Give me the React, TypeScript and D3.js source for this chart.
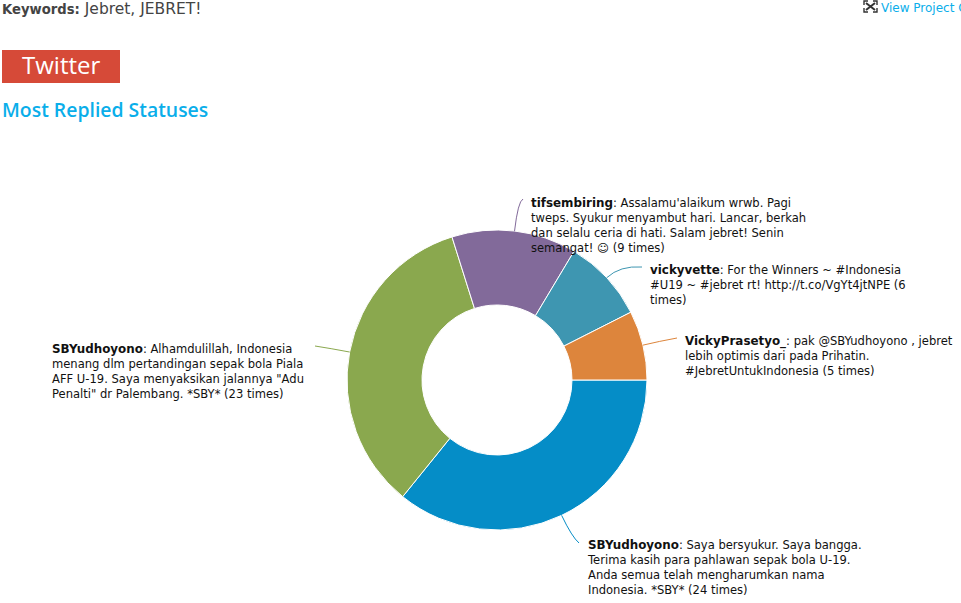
import React, { useEffect, useRef } from "react";
import * as d3 from "d3";

const users = ["SBYudhoyono", "SBYudhoyono", "tifsembiring", "vickyvette", "VickyPrasetyo_"];
const times = [24, 23, 9, 6, 5];
const colors = ["#058dc7", "#8aa84e", "#826a9a", "#3e96b1", "#dd853c"];
const statusLines = [
  [": Saya bersyukur. Saya bangga.", "Terima kasih para pahlawan sepak bola U-19.", "Anda semua telah mengharumkan nama", "Indonesia. *SBY* (24 times)"],
  [": Alhamdulillah, Indonesia", "menang dlm pertandingan sepak bola Piala", "AFF U-19. Saya menyaksikan jalannya \"Adu", "Penalti\" dr Palembang. *SBY* (23 times)"],
  [": Assalamu'alaikum wrwb. Pagi", "tweps. Syukur menyambut hari. Lancar, berkah", "dan selalu ceria di hati. Salam jebret! Senin", "semangat! \u263A (9 times)"],
  [": For the Winners ~ #Indonesia", "#U19 ~ #jebret rt! http://t.co/VgYt4jtNPE (6", "times)"],
  [": pak @SBYudhoyono , jebret", "lebih optimis dari pada Prihatin.", "#JebretUntukIndonesia (5 times)"],
];
// label block position (left x, first baseline), where the leader line stops, and how far it runs out radially before bending
const labelPos = [[588, 549], [52, 353], [531, 207], [650, 274], [685, 345]];
const leaderEnd = [[579, 543], [315, 346], [523, 199], [642, 267], [677, 338]];
const leaderReach = [24, 20, 30, 18, 17];

const App = () => {
  const ref = useRef<SVGSVGElement>(null);

  useEffect(() => {
    const svg = d3.select(ref.current);
    svg.selectAll("*").remove();

    const cx = 497;
    const cy = 380;
    const outer = 150;
    const inner = 75;
    const bodyFont = "'DejaVu Sans', sans-serif";
    const headFont = "'Open Sans', sans-serif";

    /* Header */
    const kw = svg.append("text").attr("x", 2).attr("y", 14).attr("font-family", bodyFont).attr("font-size", 15.5).attr("fill", "#444");
    kw.append("tspan").attr("font-weight", "bold").attr("font-size", 13.2).text("Keywords:");
    kw.append("tspan").text(" Jebret, JEBRET!");

    svg.append("rect").attr("x", 2).attr("y", 50).attr("width", 118).attr("height", 33).attr("fill", "#d64a38");
    svg.append("text").attr("x", 22).attr("y", 74).attr("font-family", headFont).attr("font-size", 24).attr("font-weight", 500).attr("fill", "#fff").text("Twitter");
    svg.append("text").attr("x", 2).attr("y", 117).attr("font-family", headFont).attr("font-size", 19.4).attr("font-weight", 600).attr("fill", "#0aaeea").text("Most Replied Statuses");

    /* Little fullscreen icon + link */
    const icon = svg.append("g").attr("stroke", "#333").attr("fill", "none").attr("stroke-width", 1.4);
    icon.append("path").attr("d", "M864 5V1H868M873 1H877V5M877 8V12H873M868 12H864V8");
    icon.append("path").attr("d", "M866 3L875 10M875 3L866 10").attr("stroke-width", 2);
    svg.append("text").attr("x", 881).attr("y", 12).attr("font-family", bodyFont).attr("font-size", 12).attr("fill", "#0aaeea").text("View Project O");

    /* Donut */
    const pie = d3.pie<number>().sort(null).startAngle(Math.PI / 2).endAngle(Math.PI / 2 + 2 * Math.PI);
    const arc = d3.arc<d3.PieArcDatum<number>>().innerRadius(inner).outerRadius(outer);
    const arcs = pie(times);
    const g = svg.append("g").attr("transform", `translate(${cx},${cy})`);

    /* Leader lines start on the rim at each slice's middle angle */
    arcs.forEach((d, i) => {
      const mid = (d.startAngle + d.endAngle) / 2;
      const sx = cx + Math.sin(mid) * outer;
      const sy = cy - Math.cos(mid) * outer;
      const qx = cx + Math.sin(mid) * (outer + leaderReach[i]);
      const qy = cy - Math.cos(mid) * (outer + leaderReach[i]);
      const p = d3.path();
      p.moveTo(sx, sy);
      p.quadraticCurveTo(qx, qy, leaderEnd[i][0], leaderEnd[i][1]);
      svg.append("path").attr("d", p.toString()).attr("fill", "none").attr("stroke", colors[i]).attr("stroke-width", 1);
    });

    g.selectAll("path.slice")
      .data(arcs)
      .join("path")
      .attr("class", "slice")
      .attr("d", arc)
      .attr("fill", (d, i) => colors[i])
      .attr("stroke", "#fff")
      .attr("stroke-width", 1);

    /* Labels */
    statusLines.forEach((lines, i) => {
      const [lx, ly] = labelPos[i];
      const t = svg.append("text").attr("font-family", bodyFont).attr("font-size", 11.55).attr("fill", "#111");
      lines.forEach((line, j) => {
        const row = t.append("tspan").attr("x", lx).attr("y", ly + j * 15);
        if (j === 0) row.append("tspan").attr("font-weight", "bold").attr("font-size", 11.9).text(users[i]);
        row.append("tspan").text(line);
      });
    });
  }, []);

  return <svg ref={ref} width={961} height={603} style={{ position: "absolute", left: 0, top: 0, background: "#fff" }} />;
};

export default App;
